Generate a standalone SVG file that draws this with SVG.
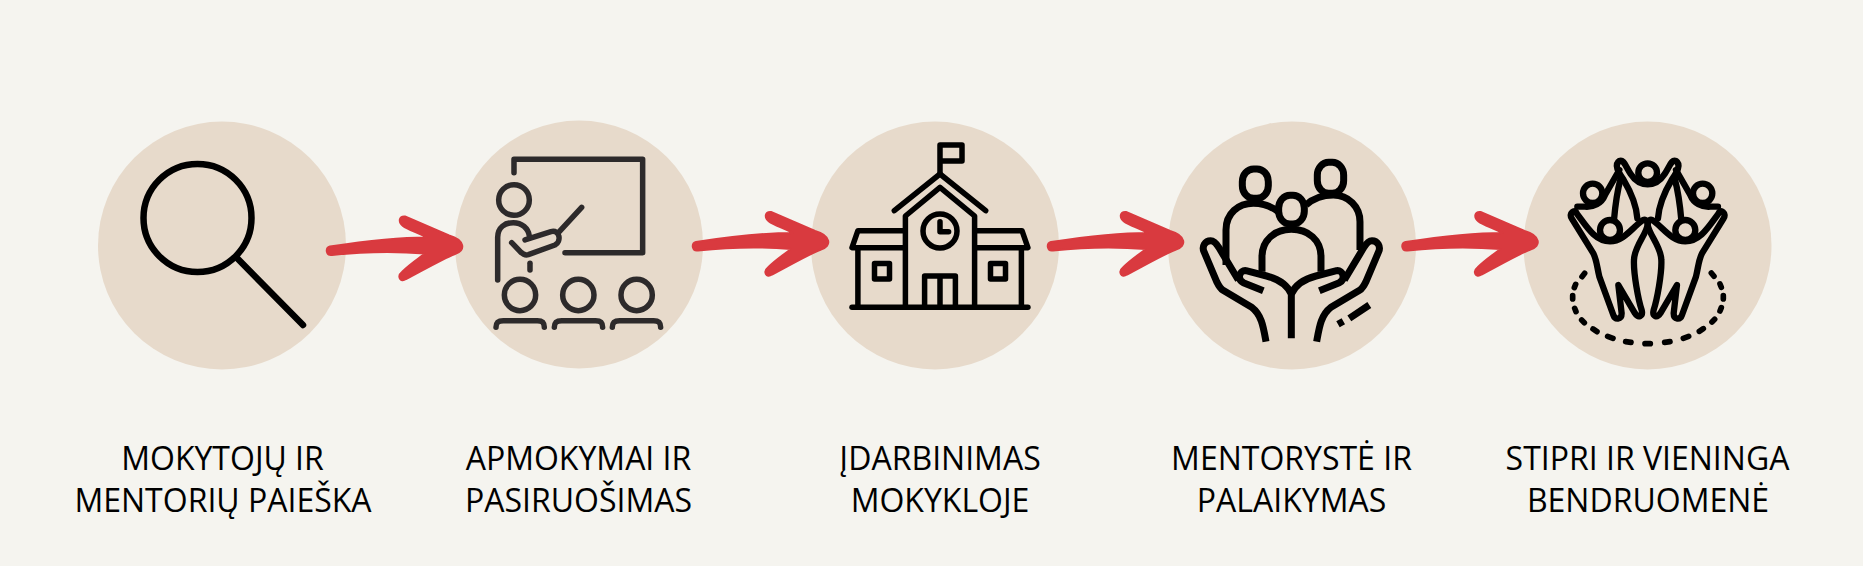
<svg xmlns="http://www.w3.org/2000/svg" width="1863" height="566" viewBox="0 0 1863 566">
<style>
.disc{fill:#e7dacb}
.lbl{font-family:"Open Sans","Noto Sans",sans-serif;font-size:32px;fill:#000;text-anchor:middle}
.ic{fill:none;stroke:#000;stroke-linecap:round;stroke-linejoin:round}
.arrow{fill:#d93a3f;stroke:#d93a3f;stroke-width:2;stroke-linejoin:round}
</style>
<defs>
<path id="arr" class="arrow" d="M330,246.5C360,242 395,237.5 427,237.5C420,233 408,230 403,226C398,222 399,216 405,216.500L449,235.500C465,240 466,251 455,254C440,260 420,272 406,279C400,283 397,276 402,272C410,264 418,259 425,253.500C395,251 360,252 332,255C326,256 325,248 330,246.5Z"/>
</defs>
<rect width="1863" height="566" fill="#f5f4ef"/>

<g id="node-1">
<circle class="disc" cx="222" cy="245.500" r="124"/>
<g class="ic" stroke-width="6.500"><circle cx="197.500" cy="218" r="54"/><path d="M236.500,257.500L303,325"/></g>
<text class="lbl" x="222.500" y="470">MOKYTOJŲ IR</text>
<text class="lbl" x="223" y="512">MENTORIŲ PAIEŠKA</text>
</g>

<g id="node-2">
<circle class="disc" cx="579" cy="244.500" r="124"/>
<g class="ic" style="stroke:#2d2a2b" stroke-width="16.500" transform="translate(480 150) scale(.3333)">
<path d="M102,68V28H488V308H255"/>
<circle cx="102" cy="150" r="46"/>
<path d="M53,390V262C53,232 75,218 100,218C125,218 145,235 148,258"/>
<path d="M135,270L213,245C240,238 245,275 225,285L145,314C135,317 130,314 122,306L95,278"/>
<path d="M238,245L305,172"/>
<path d="M150,340V360"/>
<circle cx="120" cy="435" r="47"/><circle cx="295" cy="435" r="47"/><circle cx="470" cy="435" r="47"/>
<path d="M48,532C48,517 55,512 70,512H172C187,512 193,517 193,532"/>
<path d="M223,532C223,517 230,512 245,512H347C362,512 368,517 368,532"/>
<path d="M397,532C397,517 404,512 419,512H521C536,512 542,517 542,532"/>
</g>
<text class="lbl" x="578.500" y="470">APMOKYMAI IR</text>
<text class="lbl" x="578.500" y="512">PASIRUOŠIMAS</text>
</g>

<g id="node-3">
<circle class="disc" cx="935" cy="245.500" r="124"/>
<g class="ic" stroke-width="5.500">
<path d="M940,174V145H962V161H940"/>
<path d="M894.300,210.700L940,174L985.700,210.700"/>
<path d="M905.400,305V216L940,187.300L974.600,216V305"/>
<circle cx="940" cy="231" r="17"/>
<path d="M940,221.700V231.700H948.600"/>
<path d="M924.600,305V276H955.400V305M940,278V305"/>
<path d="M852,307.300H1027.900"/>
<path d="M903,230.700H857.900L852,247.700H903M857.900,247.700V307"/>
<path d="M976.400,230.700H1022L1027.900,247.700H976.400M1021.400,247.700V307"/>
<rect x="874.500" y="263.500" width="15" height="15.500"/>
<rect x="990.500" y="263.500" width="15" height="15.500"/>
</g>
<text class="lbl" x="940" y="470">ĮDARBINIMAS</text>
<text class="lbl" x="940" y="512">MOKYKLOJE</text>
</g>

<g id="node-4">
<circle class="disc" cx="1292" cy="245.500" r="124"/>
<g class="ic" stroke-width="21" style="stroke-linecap:butt" transform="translate(1180 150) scale(.3333)">
<rect x="187" y="57" width="78" height="88" rx="34" ry="38"/>
<rect x="412" y="37" width="79" height="93" rx="34" ry="38"/>
<rect x="296" y="136" width="77" height="86" rx="34" ry="38"/>
<path d="M138,345V240C138,190 175,160 220,160C250,160 275,170 295,185"/>
<path d="M540,300V215C540,170 505,135 460,135C430,135 400,145 378,165"/>
<path d="M246,365V320C246,270 285,238 334,238C385,238 423,270 423,320V365"/>
<path d="M258,575C250,530 245,495 215,472L128,420C120,415 115,405 110,395L72,305C65,290 75,272 92,272C105,272 112,285 118,295L175,390"/>
<path d="M250,422L190,398C170,387 178,360 198,362L260,378C295,387 322,405 334,432V565"/>
<path d="M410,575C418,530 423,495 453,472L540,420C548,415 553,405 558,395L596,305C603,290 593,272 576,272C563,272 556,285 550,295L493,390"/>
<path d="M418,422L478,398C498,387 490,360 470,362L408,378C373,387 346,405 334,432"/>
<path d="M508,505L568,465M474,523L490,514"/>
</g>
<text class="lbl" x="1291.500" y="470">MENTORYSTĖ IR</text>
<text class="lbl" x="1291.500" y="512">PALAIKYMAS</text>
</g>

<g id="node-5">
<circle class="disc" cx="1647.500" cy="245.500" r="124"/>
<g class="ic" stroke-width="19" transform="translate(1560 150) scale(.3333)">
<circle cx="263" cy="68" r="28"/>
<circle cx="98" cy="130" r="29"/><circle cx="428" cy="130" r="29"/>
<circle cx="150" cy="240" r="30"/><circle cx="376" cy="240" r="30"/>
<path d="M190,88C215,130 230,175 232,205M190,88C178,70 160,45 178,33C192,28 196,48 212,72C225,92 243,103 263,103C283,103 301,92 314,72C330,48 334,28 348,33C366,45 348,70 336,88C311,130 296,175 294,205"/>
<path d="M178,60L135,135C125,160 100,172 75,170H52"/>
<path d="M348,60L391,135C401,160 426,172 451,170H474"/>
<path d="M182,85C170,130 165,175 162,210M344,85C356,130 361,175 364,210"/>
<path d="M50,190C80,230 105,274 150,274C190,274 215,235 245,213C255,205 262,212 263,222C262,250 222,290 222,330C220,370 235,450 245,480C250,500 235,505 225,490L175,405L185,490C185,510 165,510 160,495L118,380C110,345 110,330 100,310L35,205C25,190 45,175 50,190Z"/>
<path d="M476,190C446,230 421,274 376,274C336,274 311,235 281,213C271,205 264,212 263,222C264,250 304,290 304,330C306,370 291,450 281,480C276,500 291,505 301,490L351,405L341,490C341,510 361,510 366,495L408,380C416,345 416,330 426,310L491,205C501,190 481,175 476,190Z"/>
<path stroke-width="17" d="M66,380L74,370M43,413L47,403M38,447V437M44,475L48,485M65,510L73,518M99,537L111,545M143,559L159,565M197,575L213,577M255,581H271M314,577L330,575M370,565L386,559M418,544L430,536M456,516L464,508M480,483L484,473M490,437V447M480,402L484,412M454,369L462,379"/>
</g>
<text class="lbl" x="1647.500" y="470">STIPRI IR VIENINGA</text>
<text class="lbl" x="1648" y="512">BENDRUOMENĖ</text>
</g>

<g id="connectors">
<use href="#arr"/>
<use href="#arr" x="366" y="-4.500"/>
<use href="#arr" x="721" y="-4.500"/>
<use href="#arr" x="1075.500" y="-4.500"/>
</g>
</svg>
